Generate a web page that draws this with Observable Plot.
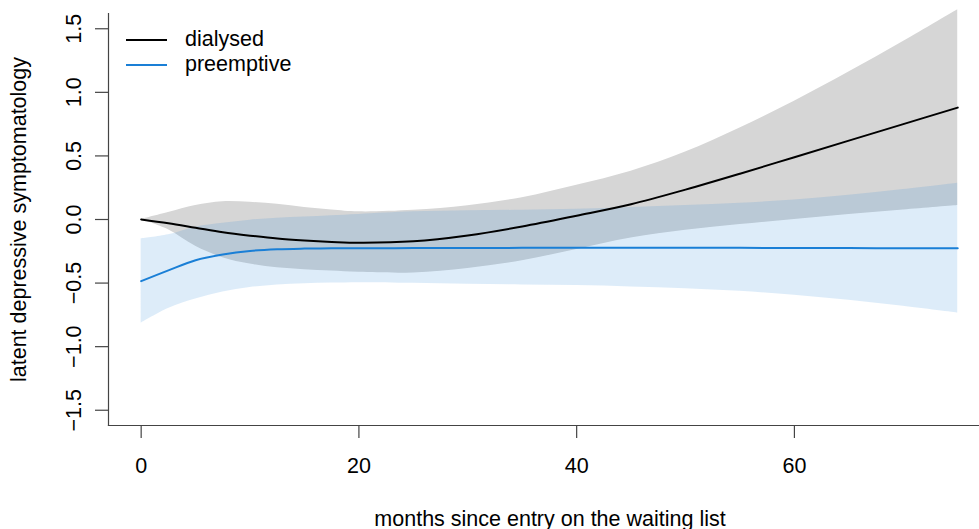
<!DOCTYPE html>
<html><head><meta charset="utf-8">
<script src="https://cdn.jsdelivr.net/npm/d3@7"></script>
<script src="https://cdn.jsdelivr.net/npm/@observablehq/plot@0.6"></script>
<style>body{margin:0;background:#fff} #chart{width:979px;height:529px}</style>
</head><body><div id="chart"></div>
<script>
const months        = [0, 2.5, 5, 7.5, 10, 12.5, 15, 17.5, 20, 25, 30, 35, 40, 45, 50, 55, 60, 65, 70, 75];
const dialysedFit   = [0, -0.03, -0.065, -0.10, -0.127, -0.15, -0.165, -0.176, -0.183, -0.172, -0.125, -0.055, 0.03, 0.12, 0.235, 0.36, 0.49, 0.62, 0.75, 0.88];
const dialysedLower = [0, -0.08, -0.21, -0.30, -0.35, -0.38, -0.395, -0.405, -0.415, -0.42, -0.385, -0.325, -0.235, -0.145, -0.085, -0.04, 0.0, 0.04, 0.075, 0.11];
const dialysedUpper = [0, 0.055, 0.11, 0.14, 0.135, 0.12, 0.095, 0.075, 0.06, 0.072, 0.108, 0.172, 0.27, 0.38, 0.53, 0.72, 0.93, 1.16, 1.40, 1.65];
const preemptFit    = [-0.485, -0.40, -0.32, -0.275, -0.247, -0.234, -0.229, -0.227, -0.226, -0.225, -0.224, -0.223, -0.222, -0.222, -0.222, -0.223, -0.224, -0.225, -0.226, -0.227];
const preemptLower  = [-0.815, -0.70, -0.625, -0.57, -0.535, -0.515, -0.505, -0.50, -0.497, -0.502, -0.51, -0.515, -0.52, -0.53, -0.545, -0.565, -0.595, -0.635, -0.683, -0.736];
const preemptUpper  = [-0.152, -0.12, -0.06, -0.03, -0.005, 0.01, 0.02, 0.03, 0.04, 0.06, 0.068, 0.073, 0.08, 0.095, 0.11, 0.128, 0.153, 0.19, 0.235, 0.285];

const xTicks = [0, 20, 40, 60];
const xTickLabels = ["0", "20", "40", "60"];
const yTicks = [-1.5, -1.0, -0.5, 0.0, 0.5, 1.0, 1.5];
const yTickLabels = ["\u22121.5", "\u22121.0", "\u22120.5", "0.0", "0.5", "1.0", "1.5"];
const seriesNames = ["dialysed", "preemptive"];
const xTitle = "months since entry on the waiting list";
const yTitle = "latent depressive symptomatology";

const blue = "#1a7fd6";
const rows = months.map((m, i) => ({m, dFit: dialysedFit[i], dLo: dialysedLower[i], dHi: dialysedUpper[i],
  pFit: preemptFit[i], pLo: preemptLower[i], pHi: preemptUpper[i]}));
const yLab = yTicks.map((v, i) => ({v, t: yTickLabels[i]}));
const xLab = xTicks.map((v, i) => ({v, t: xTickLabels[i]}));
const font = "'Liberation Sans', Arial, Helvetica, sans-serif";
const fs = 21.5;
const curve = "catmull-rom";

const plot = Plot.plot({
  width: 979, height: 529,
  marginLeft: 108, marginRight: 0, marginTop: 13, marginBottom: 104,
  style: {fontFamily: font, fontSize: fs + "px", background: "#fff", color: "#000", overflow: "visible"},
  x: {domain: [-3, 77.0]},
  y: {domain: [-1.62, 1.62]},
  marks: [
    Plot.areaY(rows, {x: "m", y1: "dLo", y2: "dHi", fill: "#d6d6d6", curve}),
    Plot.areaY(rows, {x: "m", y1: "pLo", y2: "pHi", fill: blue, fillOpacity: 0.15, curve}),
    Plot.lineY(rows, {x: "m", y: "dFit", stroke: "#000", strokeWidth: 2, curve}),
    Plot.lineY(rows, {x: "m", y: "pFit", stroke: blue, strokeWidth: 2, curve}),
    Plot.frame({anchor: "left", stroke: "#444", strokeWidth: 1.2}),
    Plot.frame({anchor: "bottom", stroke: "#444", strokeWidth: 1.2}),
    Plot.axisY(yTicks, {tickSize: 13, tickFormat: () => "", stroke: "#444", strokeWidth: 1.2, label: null}),
    Plot.axisX(xTicks, {tickSize: 13, tickFormat: () => "", stroke: "#444", strokeWidth: 1.2, label: null}),
    Plot.text(yLab, {y: "v", text: "t", frameAnchor: "left", rotate: -90, lineAnchor: "bottom", textAnchor: "middle", dx: -28, fontSize: fs, fill: "#000"}),
    Plot.text(xLab, {x: "v", text: "t", frameAnchor: "bottom", lineAnchor: "bottom", dy: 47.7, fontSize: fs, fill: "#000"}),
    Plot.text([xTitle], {text: d => d, frameAnchor: "bottom", lineAnchor: "bottom", textAnchor: "middle", dy: 100, dx: 6, fontSize: fs, fill: "#000"}),
    Plot.text([yTitle], {text: d => d, frameAnchor: "left", rotate: -90, lineAnchor: "bottom", textAnchor: "middle", dx: -83, fontSize: fs, fill: "#000"})
  ]
});
document.getElementById("chart").appendChild(plot);

// legend (top-left, inside plot area)
const svg = d3.select(plot);
const legendColors = ["#000", blue];
const g = svg.append("g").attr("font-family", font).attr("font-size", fs).attr("text-anchor", "start");
seriesNames.forEach((name, i) => {
  const cy = 40 + i * 25;
  g.append("line").attr("x1", 126).attr("x2", 167).attr("y1", cy).attr("y2", cy)
    .attr("stroke", legendColors[i]).attr("stroke-width", 2);
  g.append("text").attr("x", 185).attr("y", cy + 6).attr("text-anchor", "start").attr("fill", "#000").text(name);
});
</script>
</body></html>
